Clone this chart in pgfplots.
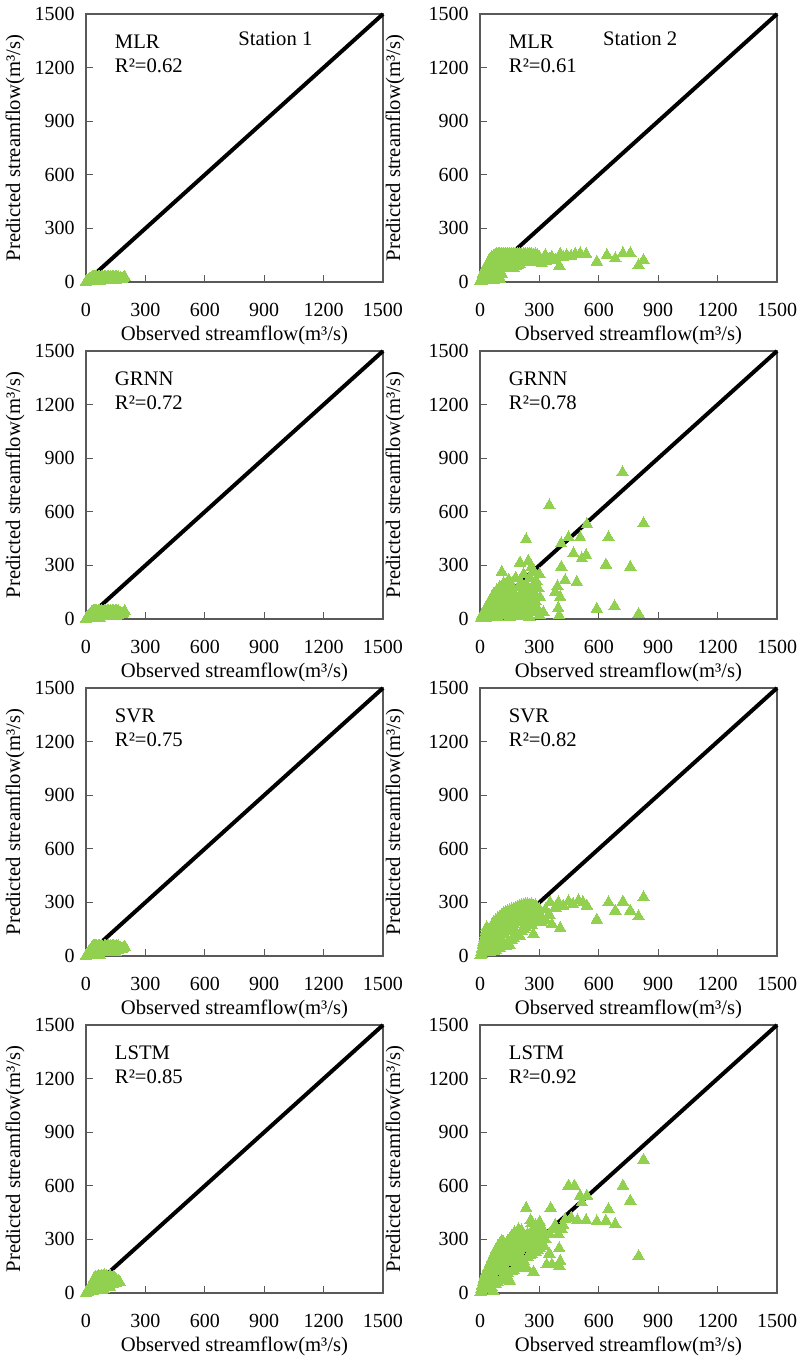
\documentclass[border=0pt]{standalone}
\usepackage{fontspec}
\setmainfont{Liberation Serif}
\usepackage{pgfplots}
\pgfplotsset{compat=1.18}
\definecolor{mygreen}{HTML}{92D050}
\definecolor{frame}{HTML}{595959}

% one scatter panel: 0..1500 on both axes, inward ticks on left and bottom
\pgfplotsset{
  sc/.style={
    scale only axis, width=222.75pt, height=201pt,
    xmin=0, xmax=1500, ymin=0, ymax=1500,
    xtick={0,300,...,1500}, ytick={0,300,...,1500},
    tick align=inside, tick pos=left, major tick length=5pt,
    axis line style={frame, line width=0.8pt},
    tick style={frame, line width=0.8pt},
    clip=false,
    /pgf/number format/assume math mode=true,
    /pgf/number format/1000 sep={},
    ticklabel style={font=\fontsize{15}{17}\selectfont},
    xticklabel style={yshift=-12pt},
    yticklabel style={xshift=-5pt},
    label style={font=\fontsize{15.5}{18}\selectfont},
    xlabel={Observed streamflow(m³/s)},
    ylabel={Predicted streamflow(m³/s)},
    xlabel style={at={(axis description cs:0.5,-0.2)}, anchor=center},
  },
  lcol/.style={ylabel style={at={(axis description cs:-0.239,0.5)}, anchor=center}},
  rcol/.style={ylabel style={at={(axis description cs:-0.286,0.5)}, anchor=center}},
  oneone/.style={black, line width=3pt},
  pts/.style={only marks, mark=triangle*, mark size=5pt,
    mark options={draw=mygreen, fill=mygreen, line width=0pt}},
}
\tikzset{lab/.style={anchor=west, inner sep=0pt, font=\fontsize{15.5}{18}\selectfont}}

\begin{document}
\begin{tikzpicture}
\path[use as bounding box] (0,0) rectangle (600pt,-1023pt);

% ---------------- row 1: MLR ----------------
\begin{axis}[sc, lcol, at={(64.5pt,-211.5pt)}, anchor=south west]
\addplot[oneone] coordinates {(0,0) (1500,1500)};
\addplot[pts] coordinates {
 (0,0) (3,2) (6,4) (9,6) (12,9) (15,12) (18,14) (22,17) (26,20) (30,22) (34,25)
 (38,27) (42,28) (48,28) (55,27) (62,28) (70,28) (78,27) (85,25) (92,27) (100,28)
 (108,26) (116,27) (124,28) (132,27) (140,28) (148,26) (156,28) (164,27) (172,22)
 (180,18) (188,22) (196,27)
 (10,2) (20,5) (30,8) (40,12) (50,15) (60,10) (70,18) (80,12) (90,16) (100,10)
 (110,14) (120,18) (130,12) (140,16) (150,10) (160,15) (25,10) (45,20) (65,22)
 (85,20) (105,20) (125,22) (145,20) (50,5) (70,3) (35,4) (15,3)};
\node[lab] at (axis cs:145,1346) {MLR};
\node[lab] at (axis cs:145,1209) {R²=0.62};
\node[lab] at (axis cs:768,1360) {Station 1};
\end{axis}

\begin{axis}[sc, rcol, at={(360pt,-211.5pt)}, anchor=south west]
\addplot[oneone] coordinates {(0,0) (1500,1500)};
\addplot[pts] coordinates {
 (3,5) (6,15) (10,25) (14,38) (18,50) (22,62) (26,75) (30,85) (35,95) (40,105)
 (45,115) (50,122) (55,130) (60,138) (68,145) (76,150) (84,155) (92,158) (100,158)
 (110,158) (120,158) (130,158) (140,158) (150,158) (160,158) (170,158) (180,157)
 (190,158) (200,158) (210,156) (220,158) (230,155) (240,158) (250,156) (260,158)
 (270,152) (280,156) (290,148) (300,140)
 (20,30) (30,50) (40,70) (50,90) (60,105) (70,120) (80,130) (90,140) (100,140)
 (110,135) (120,145) (130,140) (140,145) (150,138) (160,145) (170,140) (180,145)
 (190,138) (200,145) (210,140) (220,145) (230,138) (240,142) (250,135) (260,140)
 (270,130) (280,138) (290,125)
 (10,5) (20,12) (30,20) (40,35) (50,50) (60,70) (70,85) (80,95) (90,105) (100,110)
 (110,115) (120,120) (130,110) (140,120) (150,115) (160,120) (170,105) (180,110)
 (190,118) (200,115) (210,110) (220,120) (230,118) (240,115) (250,120) (260,110)
 (270,115) (280,120) (300,115)
 (40,15) (50,25) (60,40) (70,55) (80,65) (90,75) (100,50) (110,80) (120,90)
 (130,75) (140,95) (150,85) (160,95) (170,80) (180,90) (190,95) (200,100) (60,8)
 (70,12) (85,15) (95,30) (100,15) (110,45) (75,30)
 (312,103) (401,90) (363,141) (405,156) (438,150) (481,156) (506,160) (536,156)
 (590,113) (641,150) (683,131) (722,160) (759,160) (801,94) (826,122) (330,150)
 (350,130) (380,120) (420,140) (460,145) (330,115)};
\node[lab] at (axis cs:145,1346) {MLR};
\node[lab] at (axis cs:145,1209) {R²=0.61};
\node[lab] at (axis cs:621,1360) {Station 2};
\end{axis}

% ---------------- row 2: GRNN ----------------
\begin{axis}[sc, lcol, at={(64.5pt,-464.25pt)}, anchor=south west]
\addplot[oneone] coordinates {(0,0) (1500,1500)};
\addplot[pts] coordinates {
 (0,0) (3,3) (6,6) (9,10) (12,14) (15,18) (18,22) (22,27) (26,32) (30,36) (34,40)
 (38,43) (42,45) (48,45) (55,44) (62,45) (70,45) (78,44) (85,40) (92,44) (100,45)
 (108,42) (116,44) (124,45) (132,44) (140,45) (148,42) (156,45) (164,44) (172,35)
 (180,28) (188,35) (196,43)
 (10,3) (20,8) (30,13) (40,19) (50,24) (60,16) (70,29) (80,19) (90,26) (100,16)
 (110,22) (120,29) (130,19) (140,26) (150,16) (160,24) (25,16) (45,32) (65,35)
 (85,32) (105,32) (125,35) (145,32) (50,8) (70,5) (35,6) (15,5)};
\node[lab] at (axis cs:145,1346) {GRNN};
\node[lab] at (axis cs:145,1209) {R²=0.72};
\end{axis}

\begin{axis}[sc, rcol, at={(360pt,-464.25pt)}, anchor=south west]
\addplot[oneone] coordinates {(0,0) (1500,1500)};
\addplot[pts] coordinates {
 (5,5) (10,20) (15,10) (20,40) (25,25) (30,60) (35,15) (40,80) (45,45) (50,100)
 (55,30) (60,120) (65,70) (70,140) (75,10) (80,90) (85,160) (90,50) (95,120)
 (100,180) (105,30) (110,263) (110,140) (115,80) (120,200) (125,20) (130,110)
 (135,170) (140,60) (145,220) (150,130) (155,40) (160,190) (165,90) (170,150)
 (175,15) (180,230) (185,110) (190,70) (195,180) (202,315) (200,130) (205,40)
 (210,200) (215,90) (220,250) (225,150) (230,60) (235,190) (240,20) (244,325)
 (245,120) (250,230) (255,80) (260,170) (265,40) (270,260) (275,140) (280,100)
 (285,210) (290,60) (295,170) (300,20) (300,250) (233,445) (303,122) (320,38)
 (260,290) (120,60) (60,50) (40,30) (20,15) (30,5) (70,30) (90,10) (110,20)
 (130,40) (150,10) (170,50) (190,30) (210,15) (230,100) (250,10) (50,70) (80,40)
 (100,80) (140,100) (160,120) (180,60) (200,80) (220,120) (240,160) (260,110)
 (280,180) (125,140) (155,160) (105,100)
 (720,820) (350,635) (826,535) (540,530) (447,456) (506,456) (649,456) (410,422)
 (472,366) (536,356) (514,338) (411,291) (636,304) (759,291) (430,216) (489,206)
 (391,182) (405,122) (590,56) (680,71) (801,28) (400,19) (380,150) (395,60)};
\node[lab] at (axis cs:145,1346) {GRNN};
\node[lab] at (axis cs:145,1209) {R²=0.78};
\end{axis}

% ---------------- row 3: SVR ----------------
\begin{axis}[sc, lcol, at={(64.5pt,-717pt)}, anchor=south west]
\addplot[oneone] coordinates {(0,0) (1500,1500)};
\addplot[pts] coordinates {
 (0,0) (3,4) (6,8) (9,12) (12,18) (15,24) (18,28) (22,34) (26,40) (30,44) (34,50)
 (38,54) (42,56) (48,56) (55,54) (62,56) (70,56) (78,54) (85,50) (92,54) (100,56)
 (108,52) (116,54) (124,56) (132,54) (140,56) (148,52) (156,56) (164,54) (172,44)
 (180,36) (188,44) (196,52)
 (10,4) (20,10) (30,16) (40,24) (50,30) (60,20) (70,36) (80,24) (90,32) (100,20)
 (110,28) (120,36) (130,24) (140,32) (150,20) (160,30) (25,20) (45,40) (65,44)
 (85,40) (105,40) (125,44) (145,40) (50,10) (70,6) (35,8) (15,6)};
\node[lab] at (axis cs:145,1346) {SVR};
\node[lab] at (axis cs:145,1209) {R²=0.75};
\end{axis}

\begin{axis}[sc, rcol, at={(360pt,-717pt)}, anchor=south west]
\addplot[oneone] coordinates {(0,0) (1500,1500)};
\addplot[pts] coordinates {
 (3,5) (6,20) (10,40) (14,60) (18,80) (22,100) (26,120) (30,140) (34,160) (10,10)
 (20,20) (30,30) (40,40) (50,20) (40,100) (50,140) (60,170) (70,190) (80,200)
 (90,210) (100,220) (110,230) (120,240) (130,245) (140,250) (150,255) (160,260)
 (170,265) (180,270) (190,275) (200,280) (210,285) (220,285) (230,290) (240,290)
 (250,285) (260,290) (270,280) (280,285) (290,270) (300,260)
 (40,70) (50,90) (60,110) (70,130) (80,150) (90,160) (100,170) (110,180) (120,190)
 (130,200) (140,205) (150,210) (160,220) (170,225) (180,230) (190,235) (200,240)
 (210,245) (220,250) (230,255) (240,255) (250,260) (260,250) (270,255) (280,240)
 (290,245)
 (60,40) (70,60) (80,80) (90,100) (100,110) (110,120) (120,130) (130,140) (140,150)
 (150,160) (160,170) (170,180) (180,190) (190,195) (200,200) (210,205) (220,210)
 (230,215) (240,220) (250,220) (260,215) (270,225) (280,210) (290,220) (300,230)
 (70,25) (80,35) (90,50) (100,45) (110,60) (120,70) (130,55) (140,80) (150,60)
 (160,90) (170,100) (180,110) (190,120) (200,113) (210,140) (220,150) (230,160)
 (240,170) (250,180) (260,175) (270,122) (290,190)
 (826,328) (649,300) (722,304) (683,253) (759,253) (801,221) (590,203) (497,310)
 (540,281) (447,306) (396,300) (354,300) (405,156) (363,178) (312,188) (470,290)
 (520,300) (330,260) (380,270) (350,230) (420,280) (310,220) (330,200)};
\node[lab] at (axis cs:145,1346) {SVR};
\node[lab] at (axis cs:145,1209) {R²=0.82};
\end{axis}

% ---------------- row 4: LSTM ----------------
\begin{axis}[sc, lcol, at={(64.5pt,-969.75pt)}, anchor=south west]
\addplot[oneone] coordinates {(0,0) (1500,1500)};
\addplot[pts] coordinates {
 (0,0) (4,5) (8,10) (12,16) (16,22) (20,30) (25,40) (30,52) (35,65) (40,78) (45,85)
 (50,90) (58,88) (65,95) (72,90) (80,96) (88,92) (95,98) (102,94) (110,88)
 (118,95) (125,92) (132,85) (140,90) (148,80) (155,72) (162,65) (170,62)
 (10,4) (20,10) (30,18) (40,30) (50,40) (60,50) (70,60) (80,70) (90,75) (100,80)
 (110,70) (120,75) (130,70) (140,60) (150,55) (25,20) (45,55) (55,65) (65,75)
 (75,80) (85,55) (95,60) (105,55) (115,60) (125,55) (135,50) (60,30) (35,10)
 (100,30) (120,35) (90,20) (80,15)};
\node[lab] at (axis cs:145,1346) {LSTM};
\node[lab] at (axis cs:145,1209) {R²=0.85};
\end{axis}

\begin{axis}[sc, rcol, at={(360pt,-969.75pt)}, anchor=south west]
\addplot[oneone] coordinates {(0,0) (1500,1500)};
\addplot[pts] coordinates {
 (3,5) (6,20) (10,40) (15,60) (20,80) (25,100) (30,115) (40,140) (50,165) (60,190)
 (70,215) (80,240) (90,260) (100,275) (110,290) (118,285) (130,270) (140,290)
 (150,300) (160,320) (175,340) (194,356) (210,350) (233,475) (256,407) (261,390)
 (280,380) (303,394) (296,388)
 (20,40) (30,60) (40,90) (50,110) (60,130) (70,150) (80,170) (90,190) (100,200)
 (110,215) (120,230) (130,240) (140,250) (150,260) (160,270) (170,280) (180,290)
 (190,300) (200,310) (210,300) (220,320) (230,310) (240,330) (250,320) (260,340)
 (270,330) (280,340) (290,320) (300,330)
 (10,10) (20,20) (30,30) (40,45) (50,60) (60,80) (70,100) (80,120) (90,130)
 (100,140) (110,150) (120,160) (130,170) (140,180) (150,190) (160,200) (170,210)
 (180,220) (190,230) (200,240) (210,250) (220,260) (230,270) (240,280) (250,270)
 (260,290) (270,280) (280,300) (290,290) (300,280)
 (50,20) (60,30) (67,9) (80,50) (90,60) (100,70) (110,80) (120,90) (130,100)
 (140,110) (152,66) (160,120) (170,130) (180,140) (190,150) (200,160) (210,170)
 (220,180) (236,141) (240,200) (250,210) (260,220) (270,118) (280,230) (290,240)
 (300,250) (310,260) (320,270)
 (826,745) (447,600) (477,600) (722,600) (506,544) (540,544) (514,507) (759,516)
 (357,475) (649,469) (430,413) (492,407) (536,407) (590,400) (636,403) (683,385)
 (801,206) (405,178) (401,150) (363,159) (337,159) (413,356) (396,328) (350,330)
 (370,360) (330,300) (320,350) (380,380) (400,250) (350,220) (420,380) (460,420)};
\node[lab] at (axis cs:145,1346) {LSTM};
\node[lab] at (axis cs:145,1209) {R²=0.92};
\end{axis}
\end{tikzpicture}
\end{document}
